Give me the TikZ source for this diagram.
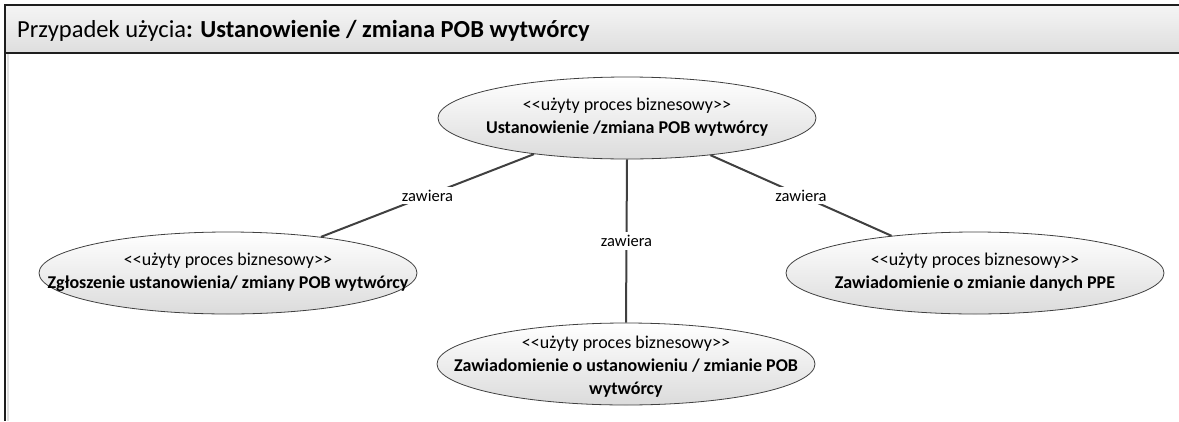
\documentclass[tikz,border=0pt]{standalone}
\usepackage{fontspec}
\setmainfont{Carlito}
\usetikzlibrary{shapes.geometric}
\definecolor{edgegray}{HTML}{404040}
\definecolor{framegray}{HTML}{1E1E1E}
\begin{document}
\begin{tikzpicture}[x=1pt,y=-1pt,
  uc/.style={ellipse, draw=edgegray, line width=0.8pt, top color=white, bottom color=black!14,
    minimum width=378pt, minimum height=82pt, inner sep=0pt},
  uctext/.style={inner sep=0pt, align=center, font=\fontsize{18}{23}\selectfont},
  conn/.style={draw=edgegray, line width=2pt},
  lbl/.style={fill=white, inner sep=3pt, font=\fontsize{16.5}{18}\selectfont}]
\useasboundingbox (0,0) rectangle (1179,421);
% frame and header
\fill[black!12] (7,54) rectangle (9,421);
\shade[top color=black!4, bottom color=black!13] (5,5) rectangle (1179,53);
\draw[framegray, line width=2pt] (1179,5) -- (5,5) -- (5,421);
\draw[framegray, line width=2pt] (5,53) -- (1179,53);
\node[anchor=west, inner sep=0pt, font=\fontsize{24.5}{28}\selectfont] (hdr) at (17,31)
  {Przypadek użycia\textbf{: Ustanowienie / zmiana POB wytwórcy}};
% use cases
\node[uc] (top) at (627,118) {};
\node[uctext] (topt) at (627,117) {<{}<użyty proces biznesowy>{}>\\\textbf{Ustanowienie /zmiana POB wytwórcy}};
\node[uc] (left) at (228,273) {};
\node[uctext] (leftt) at (228,272) {<{}<użyty proces biznesowy>{}>\\\textbf{Zgłoszenie ustanowienia/ zmiany POB wytwórcy}};
\node[uc] (right) at (975,273) {};
\node[uctext] (rightt) at (975,272) {<{}<użyty proces biznesowy>{}>\\\textbf{Zawiadomienie o zmianie danych PPE}};
\node[uc] (bottom) at (626,364) {};
\node[uctext] (bottomt) at (626,367) {<{}<użyty proces biznesowy>{}>\\\textbf{Zawiadomienie o ustanowieniu / zmianie POB}\\\textbf{wytwórcy}};
% connectors
\draw[conn] (top) -- node[lbl] (l1) {zawiera} (left);
\draw[conn] (top.south) -- node[lbl, pos=0.5] (l2) {zawiera} (bottom.north);
\draw[conn] (top) -- node[lbl] (l3) {zawiera} (right);
\end{tikzpicture}
\end{document}
